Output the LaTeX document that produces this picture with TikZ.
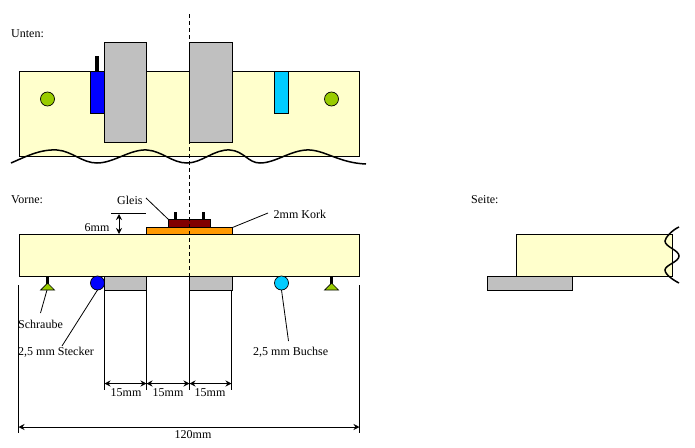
\documentclass[tikz,border=0pt]{standalone}
\usepackage{fontspec}
\setmainfont{Liberation Serif}
\usetikzlibrary{arrows.meta}
\definecolor{board}{HTML}{FFFFCC}
\definecolor{grayb}{HTML}{C0C0C0}
\definecolor{plug}{HTML}{0000FF}
\definecolor{sock}{HTML}{00CCFF}
\definecolor{screw}{HTML}{99CC00}
\definecolor{cork}{HTML}{FF9900}
\definecolor{rail}{HTML}{800000}
\tikzset{
  shp/.style={draw=black,line width=0.9pt,anchor=north west,inner sep=0pt,outer sep=0pt},
  boardbox/.style={shp,fill=board},
  graybox/.style={shp,fill=grayb},
  dot/.style={circle,draw=black,line width=0.7pt,inner sep=0pt,outer sep=0pt,minimum size=14pt},
  lbl/.style={inner sep=0pt,font=\fontsize{12}{14}\selectfont,text=black},
  wave/.style={line width=1.5pt,draw=black},
  thin line/.style={line width=0.8pt,draw=black},
  dim/.style={line width=0.9pt,draw=black,{Stealth[length=6pt,width=6pt]}-{Stealth[length=6pt,width=6pt]}},
  stub/.style={fill=black,draw=none,anchor=north west,inner sep=0pt,outer sep=0pt},
  tri/.style={draw=black,line width=0.7pt,fill=screw,line join=miter}
}
\newcommand{\bx}[6]{\node[#1,minimum width=#5-#3,minimum height=#6-#4] (#2) at (#3,#4) {};}
\begin{document}
\begin{tikzpicture}[x=1pt,y=-1pt]
\useasboundingbox (0,0) rectangle (695,447);
\fill[white] (0,0) rectangle (695,447);
% Unten
\node[lbl,anchor=west] (tU) at (11,34) {Unten:};
\bx{boardbox}{bU}{19}{71}{359}{156}
\bx{stub}{sU}{95}{56}{99}{71}
\bx{shp,fill=plug}{plugU}{90.5}{71}{104}{113.5}
\bx{shp,fill=sock}{sockU}{274.5}{71}{288.5}{113.5}
\bx{graybox}{gU1}{104.5}{42.5}{146.5}{142.5}
\bx{graybox}{gU2}{189.5}{42.5}{232.5}{142.5}
\node[dot,fill=screw] (cU1) at (47.5,99) {};
\node[dot,fill=screw] (cU2) at (331.5,99) {};
\draw[wave] (11,163) .. controls (25,157) and (40,149) .. (57,150)
  .. controls (72,151) and (82,163) .. (97,163)
  .. controls (114,163) and (130,149) .. (147,150)
  .. controls (162,151) and (172,163) .. (187,163)
  .. controls (202,163) and (214,149) .. (230,150)
  .. controls (244,151) and (248,163) .. (260,163)
  .. controls (276,163) and (292,149) .. (310,150)
  .. controls (326,151) and (340,163) .. (366,164);
% Vorne
\node[lbl,anchor=west] (tV) at (11,200) {Vorne:};
\bx{shp,fill=cork}{cork}{146.5}{227.5}{232.5}{234.5}
\bx{stub}{sR1}{174}{212}{177}{220}
\bx{stub}{sR2}{202}{212}{205}{220}
\bx{shp,fill=rail}{railb}{168.5}{219.5}{210.5}{227.5}
\bx{boardbox}{bV}{19.5}{234.5}{359.5}{276}
\bx{graybox}{gV1}{104.5}{276}{146.5}{290.5}
\bx{graybox}{gV2}{189.5}{276}{232.5}{290.5}
\bx{stub}{sS1}{46}{276}{49}{284}
\bx{stub}{sS2}{330}{276}{333}{284}
\draw[tri] (47.5,283) -- (54.5,290) -- (40.5,290) -- cycle;
\draw[tri] (331.5,283) -- (338.5,290) -- (324.5,290) -- cycle;
\node[dot,fill=plug] (cV1) at (97.5,283) {};
\node[dot,fill=sock] (cV2) at (281.5,283) {};
% centre line
\coordinate (cTop) at (189.5,14);
\coordinate (cMid) at (189.5,290);
\draw[line width=0.9pt,dash pattern=on 4pt off 3pt] (cTop) -- (cMid);
% Seite
\node[lbl,anchor=west] (tS) at (471,200) {Seite:};
\bx{boardbox}{bS}{516.5}{234.5}{672.5}{276}
\bx{graybox}{gS}{487.5}{276}{572.5}{290.5}
\draw[wave] (679,227) .. controls (672,230) and (665,238) .. (665,241)
  .. controls (665,247) and (679,250) .. (679,256)
  .. controls (679,262) and (665,265) .. (665,270)
  .. controls (665,275) and (675,281) .. (679,283);
% labels
\node[lbl,anchor=west] (tG) at (117,200) {Gleis};
\node[lbl,anchor=west] (tK) at (273.5,214) {2mm Kork};
\node[lbl,anchor=west] (t6) at (84.5,228) {6mm};
\node[lbl,anchor=west] (tSch) at (18,324) {Schraube};
\node[lbl,anchor=west] (tSt) at (18,352) {2,5 mm Stecker};
\node[lbl,anchor=west] (tB) at (253,352) {2,5 mm Buchse};
\node[lbl] (t15a) at (126,393) {15mm};
\node[lbl] (t15b) at (168,393) {15mm};
\node[lbl] (t15c) at (210,393) {15mm};
\node[lbl] (t120) at (193,435) {120mm};
% leaders
\coordinate (lG) at (146,198);
\draw[thin line] (lG) -- (railb.north west);
\coordinate (lK) at (268,213);
\draw[thin line] (lK) -- (cork.north east);
\coordinate (lS1) at (47,290);
\coordinate (lS2) at (40.5,313);
\draw[thin line] (lS1) -- (lS2);
\coordinate (lP2) at (62,346);
\draw[thin line] (cV1.south) -- (lP2);
\coordinate (lB2) at (288.5,341);
\draw[thin line] (cV2.south) -- (lB2);
% 6mm
\coordinate (h6a) at (111,213.5);
\coordinate (h6b) at (146,213.5);
\draw[thin line] (h6a) -- (h6b);
\coordinate (a6a) at (119,214);
\coordinate (a6b) at (119,234);
\draw[dim] (a6a) -- (a6b);
% extension lines
\coordinate (e0t) at (18.5,285); \coordinate (e0b) at (18.5,433);
\coordinate (e5t) at (359.5,285); \coordinate (e5b) at (359.5,433);
\coordinate (e1t) at (104.5,290); \coordinate (e1b) at (104.5,390);
\coordinate (e2t) at (146.5,290); \coordinate (e2b) at (146.5,390);
\coordinate (e3t) at (189.5,290); \coordinate (e3b) at (189.5,390);
\coordinate (e4t) at (231.5,290); \coordinate (e4b) at (231.5,390);
\foreach \e in {0,1,2,3,4,5} \draw[line width=0.9pt] (e\e t) -- (e\e b);
% dims
\coordinate (d1) at (104.5,383.5); \coordinate (d2) at (146.5,383.5);
\coordinate (d3) at (189.5,383.5); \coordinate (d4) at (231.5,383.5);
\draw[dim] (d1) -- (d2);
\draw[dim] (d2) -- (d3);
\draw[dim] (d3) -- (d4);
\coordinate (d5) at (18.5,427); \coordinate (d6) at (359.5,427);
\draw[dim] (d5) -- (d6);
\end{tikzpicture}
\end{document}
